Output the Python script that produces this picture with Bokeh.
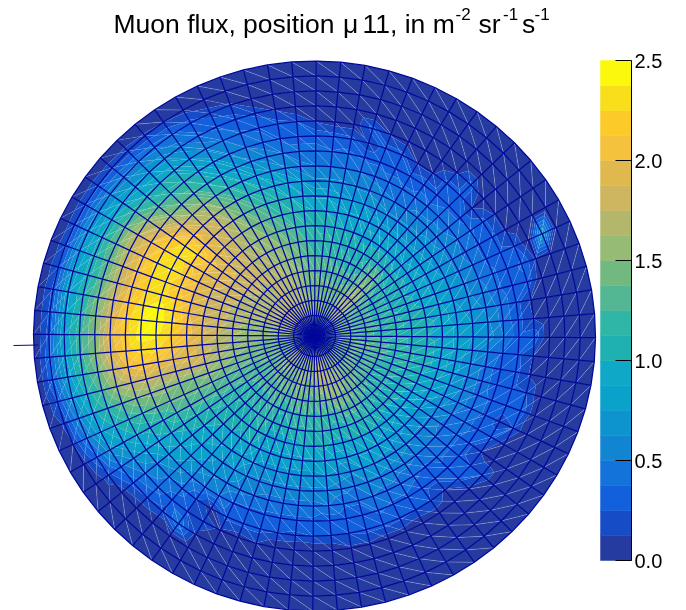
from bokeh.plotting import figure, ColumnDataSource
from bokeh.models import Range1d
from bokeh.embed import file_html
from bokeh.resources import INLINE
from bokeh.core.properties import value
import math

# node values: one list per azimuth (deg, counter-clockwise from +x), outer ring first
flux_000 = [0,0,0,0,.35,.30,.50,.70,.75,.85,.95,1.0,1.1,1.1,1.2,1.3,1.35,1.4,1.3]
flux_005 = [0,0,0,0,.12,.30,.45,.65,.75,.85,.95,1.05,1.1,1.15,1.2,1.3,1.4,1.5,1.3]
flux_010 = [0,0,0,0,.10,.30,.45,.6,.7,.8,.95,1.0,1.1,1.15,1.25,1.3,1.4,1.5,1.3]
flux_015 = [0,0,0,0,.35,.30,.4,.55,.65,.75,.9,1.0,1.05,1.15,1.2,1.3,1.35,1.45,1.3]
flux_020 = [0,0,0,.1,.4,.3,.4,.5,.65,.75,.85,.95,1.05,1.1,1.2,1.3,1.4,1.5,1.3]
flux_025 = [0,0,.8,0,.25,.3,.35,.5,.6,.75,.85,.95,1.0,1.1,1.2,1.3,1.4,1.45,1.3]
flux_030 = [0,0,0,0,.1,.3,.35,.45,.6,.7,.85,.95,1.05,1.1,1.2,1.3,1.4,1.5,1.3]
flux_035 = [0,0,0,0,.1,.3,.4,.5,.6,.7,.8,.95,1.05,1.15,1.25,1.4,1.45,1.5,1.3]
flux_040 = [0,0,0,0,0,.12,.35,.45,.55,.7,.8,.9,1.05,1.2,1.35,1.5,1.6,1.55,1.3]
flux_045 = [0,0,0,0,.3,.3,.35,.45,.55,.65,.8,.95,1.1,1.45,1.55,1.7,1.75,1.6,1.3]
flux_050 = [0,0,0,0,.1,.3,.3,.4,.55,.65,.8,.95,1.15,1.4,1.5,1.65,1.7,1.6,1.3]
flux_055 = [0,0,0,0,0,.1,.35,.4,.5,.65,.8,.95,1.1,1.2,1.35,1.5,1.6,1.5,1.3]
flux_060 = [0,0,0,0,0,.1,.3,.4,.5,.65,.8,.95,1.05,1.15,1.3,1.45,1.5,1.45,1.3]
flux_065 = [0,0,0,0,.05,.3,.35,.4,.55,.7,.8,.95,1.05,1.15,1.3,1.4,1.45,1.45,1.3]
flux_070 = [0,0,0,0,.1,.3,.35,.45,.6,.75,.9,1.0,1.05,1.2,1.3,1.4,1.5,1.5,1.3]
flux_075 = [0,0,0,0,.3,.15,.35,.5,.6,.75,.9,1.0,1.1,1.2,1.3,1.4,1.5,1.5,1.3]
flux_080 = [0,0,0,0,.05,.3,.4,.5,.65,.8,.95,1.05,1.15,1.25,1.35,1.4,1.5,1.55,1.3]
flux_085 = [0,0,0,0,.05,.32,.38,.5,.65,.85,1.0,1.1,1.15,1.25,1.35,1.45,1.5,1.5,1.3]
flux_090 = [0,0,0,0,.1,.35,.4,.5,.65,.85,1.0,1.1,1.2,1.25,1.35,1.4,1.5,1.5,1.3]
flux_095 = [0,0,0,0,.25,.35,.4,.55,.75,.9,1.05,1.15,1.25,1.3,1.4,1.45,1.5,1.55,1.3]
flux_100 = [0,0,0,.1,.3,.35,.5,.65,.85,1.0,1.15,1.25,1.35,1.4,1.5,1.5,1.6,1.6,1.3]
flux_105 = [0,0,0,.22,.35,.45,.55,.75,.95,1.1,1.2,1.3,1.4,1.45,1.55,1.55,1.6,1.6,1.3]
flux_110 = [0,0,.15,.3,.4,.5,.65,.85,1.05,1.2,1.3,1.4,1.5,1.55,1.6,1.65,1.65,1.65,1.3]
flux_115 = [0,0,.2,.35,.5,.6,.8,1.0,1.15,1.3,1.4,1.5,1.55,1.6,1.65,1.7,1.7,1.65,1.3]
flux_120 = [0,.08,.3,.4,.6,.8,.95,1.15,1.3,1.4,1.5,1.55,1.6,1.65,1.7,1.7,1.7,1.7,1.3]
flux_125 = [0,.12,.4,.55,.75,.95,1.1,1.3,1.5,1.6,1.6,1.65,1.7,1.7,1.75,1.75,1.75,1.7,1.3]
flux_130 = [0,.15,.45,.7,.95,1.15,1.3,1.55,1.7,1.8,1.75,1.75,1.75,1.75,1.75,1.75,1.75,1.7,1.3]
flux_135 = [0,.18,.5,.75,1.0,1.2,1.4,1.65,1.8,1.9,1.85,1.8,1.75,1.75,1.7,1.7,1.75,1.75,1.3]
flux_140 = [0,.2,.55,.8,1.05,1.3,1.55,1.85,2.05,2.0,1.95,1.9,1.85,1.8,1.75,1.75,1.75,1.8,1.3]
flux_145 = [0,.22,.6,.9,1.2,1.55,1.8,2.1,2.3,2.3,2.05,1.95,1.85,1.8,1.7,1.7,1.75,1.75,1.3]
flux_150 = [0,.22,.65,1.0,1.35,1.75,2.0,2.2,2.35,2.15,2.0,1.95,1.85,1.75,1.7,1.65,1.7,1.7,1.3]
flux_155 = [0,.2,.7,1.05,1.4,1.75,2.05,2.3,2.4,2.2,2.0,1.9,1.8,1.75,1.7,1.65,1.7,1.7,1.3]
flux_160 = [0,.22,.75,1.05,1.35,1.75,2.05,2.25,2.3,2.15,1.95,1.85,1.8,1.7,1.65,1.65,1.7,1.7,1.3]
flux_165 = [0,.25,.8,1.05,1.35,1.75,2.05,2.25,2.3,2.2,2.0,1.85,1.8,1.7,1.65,1.6,1.65,1.65,1.3]
flux_170 = [0,.28,.85,1.1,1.45,1.8,2.1,2.35,2.45,2.25,2.0,1.85,1.8,1.7,1.6,1.55,1.6,1.6,1.3]
flux_175 = [0,.28,.85,1.15,1.5,1.85,2.2,2.4,2.45,2.3,2.05,1.9,1.8,1.65,1.6,1.55,1.55,1.55,1.3]
flux_180 = [0,.3,.9,1.2,1.5,1.95,2.2,2.45,2.4,2.2,2.05,1.9,1.75,1.65,1.55,1.5,1.5,1.55,1.3]
flux_185 = [0,.35,.85,1.2,1.5,1.9,2.15,2.3,2.3,2.1,1.95,1.8,1.7,1.6,1.5,1.5,1.5,1.5,1.3]
flux_190 = [0,.35,.8,1.15,1.4,1.75,2.0,2.1,2.0,1.95,1.95,1.8,1.7,1.55,1.5,1.45,1.45,1.5,1.3]
flux_195 = [0,.25,.7,1.05,1.3,1.6,1.75,1.8,1.75,1.75,1.75,1.7,1.55,1.5,1.45,1.45,1.45,1.5,1.3]
flux_200 = [0,.15,.6,.95,1.15,1.35,1.5,1.55,1.55,1.5,1.5,1.55,1.5,1.45,1.4,1.4,1.45,1.45,1.3]
flux_205 = [0,.12,.5,.85,1.0,1.15,1.25,1.35,1.4,1.4,1.4,1.4,1.35,1.35,1.35,1.4,1.4,1.45,1.3]
flux_210 = [0,.05,.35,.7,.85,1.0,1.05,1.1,1.25,1.3,1.3,1.3,1.3,1.3,1.35,1.35,1.4,1.45,1.3]
flux_215 = [0,0,.2,.45,.65,.8,.95,1.0,1.05,1.1,1.15,1.2,1.2,1.25,1.3,1.35,1.45,1.5,1.3]
flux_220 = [0,0,.05,.3,.5,.6,.8,.9,.95,1.0,1.05,1.1,1.15,1.2,1.3,1.4,1.55,1.6,1.3]
flux_225 = [0,0,0,.25,.45,.5,.7,.8,.85,.95,1.0,1.05,1.1,1.2,1.3,1.4,1.6,1.7,1.3]
flux_230 = [0,0,0,.2,.3,.45,.55,.7,.8,.9,1.0,1.05,1.1,1.2,1.3,1.45,1.6,1.65,1.3]
flux_235 = [0,0,0,.5,.25,.25,.5,.65,.7,.85,.95,1.05,1.15,1.2,1.3,1.4,1.5,1.55,1.3]
flux_240 = [0,0,0,.1,.2,.05,.5,.6,.75,.85,1.0,1.1,1.2,1.3,1.4,1.5,1.5,1.45,1.3]
flux_245 = [0,0,0,0,.1,.3,.35,.55,.6,.75,.85,.95,1.05,1.15,1.3,1.4,1.5,1.55,1.3]
flux_250 = [0,0,0,0,.05,.3,.35,.5,.6,.7,.85,.95,1.05,1.15,1.35,1.5,1.55,1.55,1.3]
flux_255 = [0,0,0,0,.12,.3,.35,.45,.6,.7,.85,.95,1.1,1.25,1.4,1.55,1.6,1.55,1.3]
flux_260 = [0,0,0,0,0,.25,.35,.45,.6,.7,.85,.95,1.1,1.2,1.35,1.45,1.55,1.5,1.3]
flux_265 = [0,0,0,0,0,.22,.35,.45,.6,.7,.85,1.0,1.1,1.25,1.35,1.45,1.55,1.5,1.3]
flux_270 = [0,0,0,0,0,.25,.35,.45,.6,.7,.85,1.0,1.1,1.2,1.3,1.5,1.65,1.6,1.3]
flux_275 = [0,0,0,0,0,.25,.3,.5,.6,.75,.9,1.05,1.15,1.25,1.4,1.6,1.75,1.65,1.3]
flux_280 = [0,0,0,0,.1,.25,.3,.4,.55,.7,.8,.95,1.1,1.2,1.4,1.65,1.8,1.7,1.3]
flux_285 = [0,0,0,0,.1,.3,.3,.4,.5,.65,.8,.95,1.05,1.2,1.5,1.6,1.75,1.7,1.3]
flux_290 = [0,0,0,0,.05,.3,.4,.5,.6,.75,.9,1.0,1.1,1.35,1.5,1.65,1.6,1.55,1.3]
flux_295 = [0,0,0,0,.05,.28,.35,.45,.6,.75,.9,1.0,1.1,1.3,1.45,1.6,1.6,1.55,1.3]
flux_300 = [0,0,0,0,0,.25,.35,.45,.55,.7,.85,1.0,1.15,1.3,1.45,1.55,1.55,1.5,1.3]
flux_305 = [0,0,0,0,.05,.25,.3,.4,.55,.7,.8,.95,1.1,1.25,1.4,1.5,1.5,1.5,1.3]
flux_310 = [0,0,0,0,0,.1,.3,.35,.5,.65,.8,.95,1.05,1.2,1.35,1.45,1.5,1.5,1.3]
flux_315 = [0,0,0,0,.08,.3,.35,.4,.5,.6,.75,.9,1.05,1.15,1.3,1.45,1.5,1.5,1.3]
flux_320 = [0,0,0,0,.25,.25,.3,.4,.5,.6,.75,.9,1.05,1.15,1.25,1.4,1.45,1.45,1.3]
flux_325 = [0,0,0,0,.05,.12,.3,.4,.45,.6,.75,.95,1.05,1.15,1.25,1.35,1.45,1.45,1.3]
flux_330 = [0,0,0,0,.05,.3,.35,.4,.5,.65,.8,.95,1.05,1.15,1.25,1.35,1.4,1.45,1.3]
flux_335 = [0,0,0,0,.25,.2,.35,.45,.55,.7,.85,1.0,1.1,1.15,1.25,1.35,1.4,1.4,1.3]
flux_340 = [0,0,0,0,.35,.3,.35,.45,.6,.75,.9,1.0,1.1,1.2,1.25,1.35,1.4,1.4,1.3]
flux_345 = [0,0,0,0,.25,.3,.3,.45,.6,.8,.95,1.05,1.15,1.2,1.3,1.4,1.4,1.4,1.3]
flux_350 = [0,0,0,0,.1,.3,.3,.45,.65,.8,.95,1.05,1.15,1.2,1.3,1.4,1.4,1.45,1.3]
flux_355 = [0,0,0,0,.12,.28,.35,.5,.7,.85,.95,1.05,1.1,1.2,1.3,1.35,1.4,1.45,1.3]

azimuths = list(range(0, 360, 5))
spokes = [globals()["flux_%03d" % a] for a in azimuths]

palette = ["#263BA0","#164DC6","#1260DC","#1473DA","#1285D2","#0D94CE","#0AA1CB","#0FA8C6","#1FB0B2","#2FB6A6",
           "#52B792","#72B97F","#96BB74","#B3B76C","#CEB55F","#E0B94E","#F5C23E","#FCCB2A","#F9DE1C","#FBF80E"]
bar_max = 2.5
tick_values = [0.0, 0.5, 1.0, 1.5, 2.0, 2.5]
tick_labels = ["0.0", "0.5", "1.0", "1.5", "2.0", "2.5"]
title_parts = [("Muon flux, position", 26.5, 113, 23),
               ("\u03bc", 26.5, 342.5, 23),
               ("11, in m", 26.5, 362, 23),
               ("-2", 17, 455, 13),
               ("sr", 26.5, 478, 23),
               ("-1", 17, 502.5, 13),
               ("s", 26.5, 521.5, 23),
               ("-1", 17, 534, 13)]

CX, CY, RX, RY = 314.0, 335.5, 281.0, 275.0
TILT = -0.35
N_RING = 19
ring_frac = [1 - k * 15.3 / 281.0 for k in range(N_RING)]

def node(k, j):
    a = math.radians(azimuths[j % 72] + TILT)
    return CX + RX * ring_frac[k] * math.cos(a), CY - RY * ring_frac[k] * math.sin(a)

def clip(poly, level, above):
    out = []
    n = len(poly)
    for i in range(n):
        p, q = poly[i], poly[(i + 1) % n]
        pin = p[2] >= level if above else p[2] <= level
        qin = q[2] >= level if above else q[2] <= level
        if pin:
            out.append(p)
        if pin != qin:
            t = (level - p[2]) / (q[2] - p[2])
            out.append((p[0] + t * (q[0] - p[0]), p[1] + t * (q[1] - p[1]), level))
    return out

step = bar_max / len(palette)
xs, ys, cs = [], [], []
def add_triangle(tri):
    lo_v = min(t[2] for t in tri)
    hi_v = max(t[2] for t in tri)
    for b, col in enumerate(palette):
        lo, hi = b * step, (b + 1) * step
        if hi_v < lo or lo_v > hi:
            continue
        poly = tri
        if b > 0:
            poly = clip(poly, lo, True)
        if b < len(palette) - 1 and len(poly) >= 3:
            poly = clip(poly, hi, False)
        if len(poly) >= 3:
            xs.append([t[0] for t in poly])
            ys.append([t[1] for t in poly])
            cs.append(col)

diag_x, diag_y, diag_a = [], [], []
for j in range(72):
    for k in range(N_RING - 1):
        a = node(k, j) + (spokes[j][k],)
        b = node(k, j + 1) + (spokes[(j + 1) % 72][k],)
        c = node(k + 1, j) + (spokes[j][k + 1],)
        d = node(k + 1, j + 1) + (spokes[(j + 1) % 72][k + 1],)
        add_triangle([a, b, c])
        add_triangle([b, d, c])
        if k < 14:
            diag_x.append([b[0], c[0]])
            diag_y.append([b[1], c[1]])
            diag_a.append(0.32 if max(b[2], c[2]) < step else 0.12)

p = figure(width=686, height=610, x_range=Range1d(0, 686), y_range=Range1d(610, 0),
           x_axis_type=None, y_axis_type=None, toolbar_location=None, output_backend="svg",
           min_border=0, outline_line_color=None, background_fill_color="white")
p.grid.visible = False
p.styles = {"position": "fixed", "left": "0px", "top": "0px"}

p.patches("xs", "ys", fill_color="c", line_color=None,
          source=ColumnDataSource(dict(xs=xs, ys=ys, c=cs)))
p.multi_line("x", "y", line_alpha="a", line_color="white", line_width=0.7,
             source=ColumnDataSource(dict(x=diag_x, y=diag_y, a=diag_a)))

GRID = "#00089A"
ring_x = [[node(k, j)[0] for j in range(73)] for k in range(N_RING)]
ring_y = [[node(k, j)[1] for j in range(73)] for k in range(N_RING)]
spoke_x = [[node(k, j)[0] for k in range(N_RING)] + [CX] for j in range(72)]
spoke_y = [[node(k, j)[1] for k in range(N_RING)] + [CY] for j in range(72)]
p.multi_line(ring_x + spoke_x, ring_y + spoke_y, line_color=GRID, line_width=1.25)
p.line([13, 38], [345, 344.5], line_color=GRID, line_width=1)

# colour bar
BAR_L, BAR_R, BAR_T, BAR_B = 600, 631, 60, 560
def bar_y(v):
    return BAR_B - (BAR_B - BAR_T) * v / bar_max
p.quad(left=BAR_L, right=BAR_R, bottom=[bar_y(i * step) for i in range(len(palette))],
       top=[bar_y((i + 1) * step) for i in range(len(palette))], fill_color=palette,
       line_color=palette, line_width=0.5)
p.line([BAR_R, BAR_R], [BAR_T, BAR_B], line_color="black", line_width=1)
p.segment(x0=[615] * 6, x1=[BAR_R] * 6, y0=[bar_y(v) for v in tick_values], y1=[bar_y(v) for v in tick_values],
          line_color="black", line_width=1)
p.text(x=[634] * 6, y=[bar_y(v) for v in tick_values], text=tick_labels, text_font=value("Liberation Sans"),
       text_font_size="20px", text_baseline="middle", text_color="black")

for txt, size, x, y in title_parts:
    p.text(x=[x], y=[y], text=[txt], text_font=value("Liberation Sans"), text_font_size="%gpx" % size,
           text_baseline="middle", text_color="black")

open("out.html", "w").write(file_html(p, INLINE))
